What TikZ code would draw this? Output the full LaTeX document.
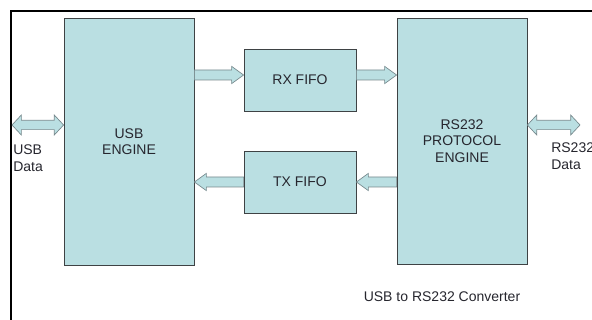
\documentclass[tikz,border=0pt]{standalone}
\usepackage{fontspec}
\setmainfont{Liberation Sans}
\usetikzlibrary{positioning,calc}
\definecolor{blockfill}{RGB}{186,223,226}
\definecolor{blockline}{RGB}{62,66,68}
\definecolor{arrowline}{RGB}{118,136,140}
\definecolor{labeltext}{RGB}{38,38,46}

% flat block arrow, one head
\newcommand{\fifoarrow}[2]{%
  \draw[blockarrow] let \p1=(#1), \p2=(#2), \n1={sign(\x2-\x1)} in
    (\x1,{\y1+3.75pt}) -- ({\x2-\n1*9pt},{\y1+3.75pt}) -- ({\x2-\n1*9pt},{\y1+6.5pt})
    -- (\x2,\y1) -- ({\x2-\n1*9pt},{\y1-6.5pt}) -- ({\x2-\n1*9pt},{\y1-3.75pt})
    -- (\x1,{\y1-3.75pt}) -- cycle;}
% flat block arrow, two heads
\newcommand{\busarrow}[2]{%
  \draw[blockarrow] let \p1=(#1), \p2=(#2) in
    (\x1,\y1) -- ({\x1+7pt},{\y1+7.5pt}) -- ({\x1+7pt},{\y1+3.5pt})
    -- ({\x2-7pt},{\y1+3.5pt}) -- ({\x2-7pt},{\y1+7.5pt}) -- (\x2,\y1)
    -- ({\x2-7pt},{\y1-7.5pt}) -- ({\x2-7pt},{\y1-3.5pt})
    -- ({\x1+7pt},{\y1-3.5pt}) -- ({\x1+7pt},{\y1-7.5pt}) -- cycle;}

\begin{document}
\begin{tikzpicture}[
    x=0.75pt, y=-0.75pt,
    block/.style={rectangle, draw=blockline, fill=blockfill, line width=0.6pt, align=center, text=labeltext, font=\fontsize{10.5}{12.4}\selectfont, inner sep=0pt},
    blockarrow/.style={draw=arrowline, fill=blockfill, line width=0.5pt, line join=miter},
    tag/.style={text=labeltext, align=left, inner sep=0pt, font=\fontsize{10.5}{12.4}\selectfont}
]
\useasboundingbox (0,0) rectangle (592,320);

\draw[line width=1.8pt] (11,320) -- (11,11) -- (592,11);

\node[block, minimum width=97.5pt, minimum height=185.25pt] (usb) at (129,141.5) {USB\\ENGINE};
\node[block, minimum width=84pt, minimum height=46.5pt] (rx) at (300,80) {RX FIFO};
\node[block, minimum width=84pt, minimum height=46.5pt] (tx) at (300,182) {TX FIFO};
\node[block, minimum width=97.5pt, minimum height=184.5pt] (rs) at (462,141) {RS232\\PROTOCOL\\ENGINE};

\coordinate (usbend) at (12,125);
\coordinate (rsend) at (580,125);
\coordinate (rxline) at ($(rx.west)+(0,-5)$);

\busarrow{usbend}{usbend -| usb.west}
\busarrow{rs.east |- rsend}{rsend}
\fifoarrow{usb.east |- rxline}{rxline}
\fifoarrow{rx.east |- rxline}{rs.west |- rxline}
\fifoarrow{rs.west |- tx.east}{tx.east}
\fifoarrow{tx.west}{usb.east |- tx.west}

\node[tag, anchor=west] (usbdata) at (13,158) {USB\\Data};
\node[tag, anchor=west] (rsdata) at (551,156) {RS232\\Data};
\node[tag] (title) at (442,297) {USB to RS232 Converter};

\end{tikzpicture}
\end{document}
